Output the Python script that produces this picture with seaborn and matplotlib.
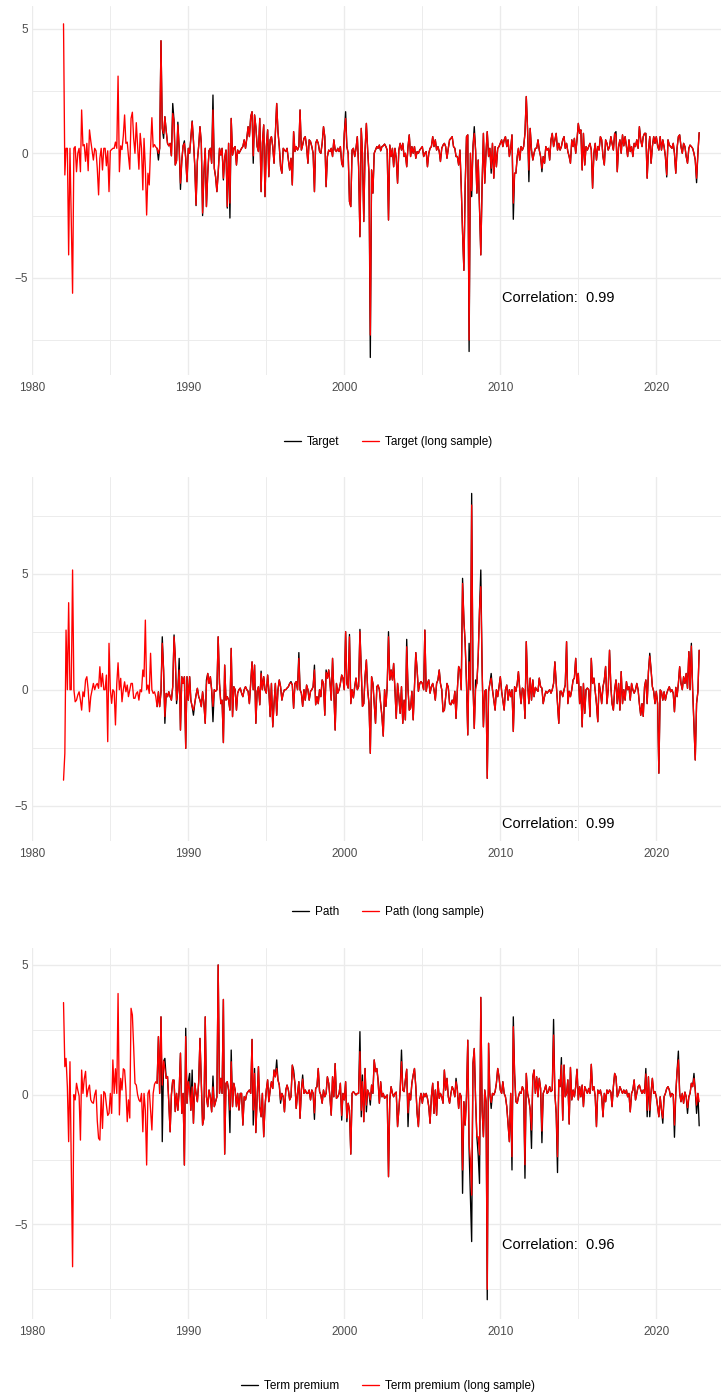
import numpy as np
import pandas as pd
import matplotlib
matplotlib.use("Agg")
import matplotlib.pyplot as plt
import matplotlib.dates as mdates
from matplotlib.lines import Line2D
from matplotlib.ticker import FixedLocator
import seaborn as sns

sns.set_theme(style="white")
plt.rcParams["font.family"] = ["Liberation Sans", "DejaVu Sans"]
plt.rcParams["axes.unicode_minus"] = True

# Monthly surprise factors, long sample starts Jan 1982, short sample Jan 1988
LONG_START = "1982-01-01"
SHORT_OFFSET = 72  # months between the two sample starts

target_long = [
    5.2, -0.87, 0.2, 0.2, -4.08, 0.2, -2.7, -5.62, 0.2, 0.27,
    -0.74, 0.0, 0.2, -0.74, 1.74, 0.3, 0.35, -0.32, 0.4, -0.7,
    0.94, 0.5, 0.1, -0.27, 0.2, 0.1, -0.6, -1.67, -0.2, 0.2,
    -0.67, 0.2, 0.2, -0.5, 0.1, -1.54, 0.1, 0.15, 0.2, 0.2,
    0.45, 0.2, 3.1, -0.74, 0.3, 0.15, 0.7, 1.54, 0.4, 0.45,
    -0.1, -0.64, 1.4, 1.65, 0.6, 0.0, 1.23, 0.3, -0.64, 0.8,
    0.2, -1.47, 0.6, -0.6, -2.48, -0.8, -1.27, 0.2, 1.43, 0.25,
    0.35, 0.25, 0.2, 0.0, 0.2, 4.52, 1.0, 0.8, 1.47, 0.9,
    0.4, 0.3, 0.4, -0.1, 1.6, 1.3, -0.47, -0.3, 1.14, 0.2,
    -1.2, -0.3, 0.3, 0.4, -0.2, -1.14, 0.2, 0.0, 0.6, 1.27,
    0.5, -0.5, -2.07, -0.3, 0.3, 1.07, 0.4, -2.4, -0.8, 0.2,
    -2.14, -0.8, 0.1, 0.2, -0.4, 1.74, -0.6, -0.94, -1.54, -0.8,
    0.2, -0.07, 0.2, -1.0, -0.2, 0.13, -2.14, 0.4, -2.0, 1.4,
    -0.07, 0.2, 0.27, -0.47, 0.13, 0.0, 0.1, 0.2, 0.27, 0.54,
    0.2, 0.6, 1.07, 0.67, 1.47, 1.67, -0.1, 1.54, 1.07, 0.27,
    0.07, 1.4, -1.54, 0.4, 1.14, -1.74, 0.27, 0.94, -0.94, 0.54,
    0.67, 0.27, -0.4, 0.8, 2.0, 0.87, 0.27, -0.54, -0.8, 0.2,
    0.13, 0.07, 0.2, -0.27, -0.67, -0.2, -1.27, 0.87, 0.07, 0.27,
    0.13, 0.27, 1.74, 0.13, 0.33, 0.6, 0.67, 0.27, -0.4, 0.54,
    0.47, 0.27, 0.0, -1.54, 0.4, 0.54, 0.4, 0.07, 0.0, 0.4,
    1.07, 0.67, -1.34, -0.13, 0.13, 0.07, 0.2, -0.13, 0.54, 0.13,
    0.07, 0.2, 0.07, 0.27, -0.4, -0.54, 0.8, 1.4, 0.27, 0.0,
    -1.94, -2.14, 0.13, 0.2, -0.13, 0.2, 0.67, -0.54, -3.35, 1.0,
    0.0, -2.74, 0.13, 1.2, 0.13, -0.8, -7.3, -0.67, -1.6, 0.0,
    0.13, 0.27, 0.2, 0.33, 0.1, 0.27, 0.3, 0.37, 0.27, 0.13,
    -2.68, 0.33, -0.13, 0.2, -0.54, 0.2, -0.2, -1.2, 0.13, 0.4,
    0.13, 0.4, -0.13, 0.0, -0.54, 0.27, 0.74, -0.13, 0.27, 0.0,
    0.27, -0.2, 0.07, 0.0, 0.13, 0.2, 0.27, -0.13, 0.0, 0.07,
    -0.54, 0.0, 0.2, 0.27, 0.67, 0.27, 0.54, 0.13, 0.27, 0.07,
    -0.33, 0.2, 0.33, 0.4, 0.27, -0.2, 0.2, 0.54, 0.6, 0.67,
    0.27, 0.2, -0.13, -0.13, -0.47, 0.13, -1.34, -3.2, -4.7, -1.34,
    0.67, 0.74, -7.5, 0.0, -1.5, 0.27, 0.8, 0.13, -1.6, -0.27,
    -2.14, -4.08, -1.2, 0.8, -1.2, 0.07, 0.87, -0.13, 0.2, -0.6,
    0.4, -1.0, 0.27, -0.54, 0.2, 0.27, 0.4, 0.54, 0.27, 0.54,
    0.67, 0.27, 0.54, -0.13, 0.2, 0.74, -2.0, -0.8, -0.8, -0.13,
    0.2, -0.27, 0.27, 0.13, 0.27, 0.8, 2.28, 0.94, -0.67, 1.0,
    0.13, -0.27, 0.0, 0.2, 0.2, 0.54, 0.13, -0.13, -0.6, -0.13,
    -0.4, 0.27, 0.13, 0.2, -0.27, 0.54, 0.8, 0.27, 0.54, 0.8,
    0.13, 0.4, 0.13, 0.27, 0.54, 0.67, 0.2, 0.4, 0.07, -0.13,
    -0.4, 0.54, 0.27, 0.6, 0.0, 0.54, 1.2, 0.8, 0.94, -0.67,
    0.8, -0.47, 0.27, 0.13, 0.27, 0.4, 0.13, -1.4, 0.0, 0.4,
    -0.27, 0.27, 0.13, 0.67, 0.54, -0.13, -0.47, 0.54, 0.4, 0.13,
    0.27, 0.67, 0.4, 0.13, 0.8, 0.7, -0.74, 0.27, 0.54, 0.0,
    0.74, 0.3, 0.67, 0.27, -0.13, 0.54, 0.07, 0.27, -0.13, 0.4,
    0.27, 0.54, 0.2, 1.07, 0.54, 0.27, 0.67, 0.8, 0.8, -1.0,
    0.13, 0.67, -0.4, 0.27, 0.67, 0.4, 0.67, 0.3, 0.13, 0.67,
    0.13, 0.54, 0.27, -0.13, -0.87, 0.54, 0.33, 0.27, 0.2, 0.4,
    0.0, -0.8, 0.2, 0.67, 0.74, 0.27, 0.0, 0.4, 0.27, -0.13,
    -0.4, 0.2, 0.33, 0.27, 0.2, 0.0, -0.27, -1.0, 0.0, 0.83,
]
# Short-sample months where the estimate departs from the long sample
target_short_diff = {
    73: -0.27, 77: 0.6, 84: 2.0, 88: 1.25, 90: -1.45, 93: 0.5, 99: 1.3,
    102: -2.1, 107: -2.5, 115: 2.34, 123: -1.07, 126: -2.2, 128: -2.6,
    146: -0.4, 217: 1.67, 236: -8.2, 312: -7.96, 314: -1.74, 316: 1.07,
    329: -0.8, 346: -2.65, 358: -1.14, 368: -0.74, 425: 0.87, 464: -0.95,
    487: -1.18,
}

path_long = [
    -3.9, -2.74, 2.57, 0.0, 3.75, 0.0, 0.0, 5.16, 0.0, -0.52,
    -0.45, -0.23, -0.09, -0.45, -0.88, -0.09, -0.3, 0.42, 0.56, 0.0,
    -0.95, -0.3, 0.0, 0.27, 0.0, 0.2, 0.27, 0.06, 0.99, 0.13,
    0.7, 0.0, 0.0, 0.63, -2.24, 2.0, 0.0, -0.59, 0.0, -0.09,
    -1.52, 0.27, 1.16, 0.0, 0.49, -0.52, 0.0, 0.34, -0.09, 0.2,
    -0.3, 0.0, 0.27, 0.27, -0.37, -0.37, -0.16, -0.09, -0.45, 0.0,
    -0.09, 0.85, 0.56, 3.0, 0.0, 0.2, -0.16, 1.57, 0.0, -0.16,
    -0.09, -0.3, -0.73, -0.09, -0.73, -0.09, 2.0, 0.85, -1.16, -0.16,
    -0.3, -0.09, -0.3, -0.45, 0.13, 2.28, 1.42, -0.45, 0.0, 0.85,
    -1.74, 0.56, 0.27, 0.56, -2.53, 0.56, -0.45, 0.56, -0.45, -0.73,
    -0.88, -0.59, -0.23, 0.06, -0.3, -0.45, -0.73, -0.09, -0.59, -1.45,
    0.2, 0.7, 0.27, 0.56, 0.0, -0.72, 0.0, -0.07, 0.0, 2.28,
    0.27, -0.6, -0.45, -2.28, 1.06, -0.45, -0.3, -0.45, -0.88, 1.78,
    -1.16, 0.13, 0.0, -0.88, -0.15, 0.0, 0.07, -0.15, -0.3, 0.0,
    0.13, 0.0, -0.07, -0.6, 0.27, 1.2, 0.0, 1.06, -1.45, -0.07,
    0.13, -0.65, 0.7, 0.0, 0.56, 0.0, -0.15, 0.63, 0.0, -1.16,
    0.27, -1.6, -0.6, 0.27, -1.1, 0.0, 0.42, 0.13, -0.45, -0.15,
    0.0, 0.0, 0.07, 0.13, 0.27, 0.3, 0.2, -0.8, 0.27, 0.35,
    0.0, 1.35, 0.0, -0.15, -0.72, 0.0, -0.45, 0.2, 0.0, -0.45,
    -0.07, 0.0, 0.13, 0.85, -0.65, -0.3, -0.6, 0.0, -0.3, 0.42,
    0.27, -1.1, 0.75, 0.5, 0.85, 0.27, -0.45, 1.35, -0.07, -1.74,
    0.27, -0.15, 0.0, 0.27, 0.63, 0.5, 0.0, 2.5, 0.27, 0.07,
    2.28, -0.6, 0.0, -0.35, 0.13, 0.5, 0.0, 0.13, 2.5, 0.85,
    -0.72, -0.6, 0.56, 1.28, 0.0, -0.6, -2.74, 0.56, 0.27, -0.6,
    -1.45, 0.13, 0.2, 0.0, -0.6, -1.16, -2.0, 0.0, -0.72, 0.13,
    2.28, 0.42, 0.85, 0.42, 1.13, 0.0, -1.24, 0.27, -0.3, -1.02,
    0.13, -1.45, -0.45, -1.3, 1.85, 0.0, -0.88, -0.8, -0.07, -1.3,
    0.13, 1.6, 0.85, -0.07, 0.27, 0.35, 0.27, 0.0, 2.57, -0.07,
    0.27, 0.42, -0.15, 0.13, 0.27, 0.0, -0.45, 0.27, 0.42, 0.85,
    0.27, 0.0, -0.95, -0.88, -0.3, 0.27, 0.1, -0.6, -0.65, -0.45,
    -0.6, -0.07, -1.24, 0.0, 1.0, 0.85, 0.0, 4.58, 3.0, 2.0,
    0.27, -1.95, 1.2, 0.0, 7.96, 0.27, -1.67, 0.0, 0.27, 1.42,
    3.45, 4.44, 0.85, -1.6, -0.07, 0.0, -3.82, -0.07, 0.27, 0.5,
    0.0, -0.45, -0.88, 0.0, -0.3, 0.13, 0.56, -0.07, -0.45, -0.88,
    0.0, 0.2, -0.45, 0.0, -0.3, 0.0, -1.8, 0.13, -0.07, 0.27,
    0.78, 0.0, -0.6, 0.07, 0.0, -1.24, 2.07, 0.27, -0.6, 0.5,
    -0.45, 0.42, -0.3, 0.1, 0.0, -0.07, 0.5, 0.13, 0.07, -0.6,
    -0.3, -0.07, -0.15, -0.07, 0.0, -0.15, 0.0, 0.27, 1.2, 0.27,
    -0.6, -1.45, -0.07, -0.07, -0.3, 0.0, 0.2, 2.07, -0.6, -0.07,
    -0.3, 0.0, 0.42, 0.5, 1.35, 0.27, 0.7, -0.6, 0.13, -1.6,
    0.27, -1.02, 0.0, 0.07, 0.0, -1.16, 1.35, 0.27, 0.5, -0.07,
    -0.6, -1.38, 0.27, -0.07, -0.6, 0.13, 0.42, 1.0, -0.6, 0.0,
    1.7, 0.13, -0.6, -0.88, 0.0, 0.42, -0.6, 0.27, -0.88, 0.78,
    -0.6, 0.0, -0.45, 0.35, 0.0, 0.13, -0.45, 0.27, 0.0, -0.15,
    0.0, 0.27, 0.0, -0.6, -1.1, -0.6, -1.15, 0.13, 0.42, -0.6,
    0.78, 1.45, 0.85, 0.13, -0.07, -0.6, -0.07, -0.6, -3.6, -0.01,
    -0.09, -0.45, -0.09, -0.45, -0.16, 0.0, 0.13, -0.09, 0.0, -0.16,
    -0.95, 0.1, -0.3, 0.27, 0.99, 0.27, 0.0, 0.56, 0.27, 0.7,
    0.06, 1.64, 0.0, 1.88, 0.0, -1.6, -3.03, -0.59, -0.09, 1.7,
]
path_short_diff = {
    76: 2.28, 78: -1.45, 85: 2.36, 87: -0.6, 89: 1.35, 100: -1.1, 110: 0.42,
    115: -1.38, 152: 0.8, 175: 0.35, 181: 1.6, 193: 1.06, 202: 0.85,
    220: 2.38, 228: 2.6, 250: 2.5, 264: 2.17, 307: 4.8, 312: 2.0, 314: 8.46,
    317: 0.42, 321: 5.16, 329: 0.7, 451: 1.57, 483: 2.0,
}

term_long = [
    3.55, 1.08, 1.4, 0.3, -1.81, 1.27, -2.5, -6.63, 0.0, -0.2,
    0.44, 0.18, -0.05, -1.75, 0.95, 0.05, 0.6, 0.9, -0.08, 0.2,
    0.37, -0.2, -0.3, -0.33, 0.0, 0.18, -1.0, -1.68, -1.75, 0.0,
    -1.3, 0.12, 0.05, -0.4, -0.8, -0.72, 0.05, -0.72, 1.34, 0.05,
    1.0, 0.05, 3.9, -0.78, 0.63, 0.18, 1.0, 0.95, 0.18, -1.04,
    -0.2, -0.9, 3.33, 3.07, 1.85, 0.44, 0.37, 0.0, -0.2, -0.27,
    0.05, -1.43, 0.05, -0.6, -2.71, 0.05, 0.18, -0.6, -1.36, 0.05,
    0.4, 0.5, 0.44, 2.24, 0.05, 3.0, 0.37, 1.3, 1.0, 0.63,
    0.7, -0.3, -1.43, 0.0, 0.56, 0.56, -0.65, 0.05, -0.6, 0.18,
    1.6, -0.72, 0.05, -2.71, 2.24, -0.33, 0.5, 0.2, -0.6, 0.3,
    -1.1, 0.44, 0.05, -0.27, 0.5, 2.17, 0.5, -1.17, -0.9, 3.0,
    -0.08, -0.46, 0.18, -0.08, -0.66, 0.3, -0.46, -0.27, -0.08, 5.0,
    0.05, 0.63, 0.05, 3.67, -2.29, 0.44, 0.5, 0.18, -0.59, 1.27,
    -0.46, 0.44, 0.18, -0.46, 0.05, -0.59, 0.05, 0.05, -1.17, -0.08,
    -0.2, 0.05, 0.12, 0.18, 0.05, 2.13, -0.59, 0.82, -1.46, -0.08,
    1.08, -0.46, -0.85, 0.05, -1.62, -0.46, 0.18, 0.57, -0.27, 0.18,
    0.5, 0.24, 0.95, 0.69, 1.01, 0.57, 0.37, -0.2, 0.05, -0.08,
    -0.66, 0.18, 0.37, 0.18, -0.2, -0.08, 1.14, 0.8, 0.44, -0.53,
    0.05, 0.5, -0.91, 0.18, 0.6, 0.05, 0.18, 0.05, 0.05, 0.18,
    -0.2, 0.18, 0.05, -0.7, 0.24, 0.31, 1.01, 0.12, -0.01, -0.33,
    0.18, -0.08, 0.05, 0.69, 0.44, -0.14, -0.79, 0.69, -0.08, 1.2,
    -0.14, -0.08, 0.05, 0.44, -0.8, 0.05, -0.2, 0.5, -0.9, -0.33,
    -0.59, -2.29, 0.05, 0.12, 0.05, -0.01, 0.05, 0.05, 1.66, -0.6,
    0.5, -1.04, 1.01, -0.4, 0.18, 0.05, -0.2, 0.37, 0.05, 1.34,
    0.89, 1.01, 0.57, -0.33, 0.5, -0.08, 0.05, -0.14, -0.08, -0.01,
    -3.16, -0.2, 0.31, 0.05, -0.08, 0.05, 0.1, -1.23, -0.59, 0.18,
    1.27, 0.18, 0.12, 0.57, 0.98, -0.7, 0.05, -0.2, 0.44, 0.76,
    1.01, 0.31, -0.72, -1.23, -0.2, 0.05, -0.33, 0.05, -0.08, 0.05,
    -0.14, -0.46, -1.1, -0.08, 0.44, -0.72, 0.18, -0.79, 0.5, -0.14,
    0.05, -0.08, -0.33, 0.95, 0.18, 0.63, -0.08, -0.33, 0.05, 0.31,
    0.18, -0.08, 0.5, 0.18, -0.53, 0.05, -0.08, -2.9, -0.27, -1.17,
    -0.08, 2.1, -1.88, -2.5, -3.87, 1.2, 1.78, -0.2, -1.62, -1.62,
    -2.32, 3.75, -0.59, -1.62, 0.18, -0.27, -7.5, 1.98, 0.05, -0.3,
    0.05, -0.01, 0.12, 0.44, 1.01, 0.69, 0.18, 0.05, 0.5, 0.05,
    -0.08, -0.46, -1.1, -1.81, 0.05, -2.39, 2.62, 0.82, -0.27, -0.33,
    -0.08, 0.1, 0.05, 0.31, 0.18, -2.7, 0.82, 0.05, -0.2, -0.59,
    -1.36, 0.69, 0.95, 0.05, 0.69, -0.08, 0.63, 0.24, -1.4, 0.05,
    0.18, 0.37, 0.05, 0.12, 0.31, 0.12, 0.18, 2.3, 0.05, -0.72,
    -2.39, 0.57, 0.31, 1.14, -0.98, 1.14, -0.08, 0.05, 0.57, -1.13,
    1.05, -0.2, 0.18, -0.08, 0.31, 0.98, -0.2, 0.31, -0.08, 0.37,
    -0.46, 0.31, 0.18, 0.05, 0.24, 0.05, 1.17, 0.18, 0.31, -0.08,
    -1.23, 0.18, 0.05, 0.18, -0.08, -0.85, 0.05, -0.27, 0.18, 0.05,
    0.18, 0.1, -0.46, 0.31, 0.82, 0.69, -0.08, 0.05, 0.31, 0.18,
    0.05, 0.18, 0.05, 0.18, -0.08, 0.05, -0.66, 0.05, 0.18, 0.57,
    -0.2, 0.05, 0.31, 0.37, 0.18, 0.05, 0.18, 0.05, 0.8, -0.6,
    0.69, -0.6, 0.1, 0.63, 0.05, 0.12, -0.08, -0.46, -0.85, -0.08,
    -0.59, -0.9, -0.08, 0.05, 0.24, 0.31, 0.18, -0.08, 0.05, -0.01,
    -1.17, 0.05, 0.89, 1.34, 0.05, -0.27, 0.05, -0.33, 0.1, -0.08,
    -0.5, -0.08, 0.05, 0.44, 0.31, 0.63, 0.18, -0.4, 0.05, -0.27,
]
term_short_diff = {
    76: -1.81, 78: 1.4, 94: 2.56, 97: 0.82, 99: 0.95, 115: 0.72, 128: -1.46,
    129: 1.72, 146: -1.17, 147: 1.01, 164: 1.34, 167: -0.33, 177: 0.95,
    184: 0.76, 193: -0.95, 214: -0.98, 218: -1.04, 228: 2.43, 229: -0.85,
    230: 0.76, 233: -0.66, 236: -0.4, 260: 1.72, 265: -1.23, 302: 0.63,
    307: -3.8, 312: -2.13, 313: -4.0, 314: -5.66, 319: -2.32, 320: -3.42,
    326: -7.9, 329: -0.53, 345: -2.9, 346: 3.0, 355: -3.22, 360: -2.07,
    368: -1.85, 377: 2.9, 380: -3.0, 383: 1.43, 448: 1.01, 449: -0.85,
    451: -0.85, 461: -1.1, 470: -1.64, 473: 1.68, 480: -0.72, 485: 0.82,
    487: -0.72, 489: -1.2,
}

series_names = ["Target", "Path", "Term premium"]
correlations = [0.99, 0.99, 0.96]
long_values = [target_long, path_long, term_long]
short_diffs = [target_short_diff, path_short_diff, term_short_diff]


def build_frame(values, diffs):
    dates = pd.date_range(LONG_START, periods=len(values), freq="MS")
    long_s = pd.Series(values, index=dates, dtype=float)
    short_s = long_s.iloc[SHORT_OFFSET:].copy()
    for idx, val in diffs.items():
        short_s.iloc[idx - SHORT_OFFSET] = val
    return long_s, short_s


# Layout in pixels
W, H, DPI = 721, 1393, 96
PANEL_LEFT = 31.7
PX_PER_YEAR = 15.6
X1980 = 32.3
layout = [
    # top, bottom, zero line, px per unit, legend centre
    dict(top=6, bottom=375, zero=153.3, ppu=24.9, legend=442),
    dict(top=477, bottom=841, zero=689.7, ppu=23.2, legend=912),
    dict(top=948, bottom=1319, zero=1094.7, ppu=25.95, legend=1386),
]

fig = plt.figure(figsize=(W / DPI, H / DPI), dpi=DPI)

base = mdates.date2num(pd.Timestamp("1980-01-01"))


def year_num(y):
    return base + (y - 1980) * 365.25


xlim = (year_num(1980 - (X1980 - PANEL_LEFT) / PX_PER_YEAR),
        year_num(1980 + (W - X1980) / PX_PER_YEAR))

GRID = "#EBEBEB"
TXT = "#4D4D4D"
LW = 1.0

for name, corr, vals, diffs, lay in zip(series_names, correlations, long_values,
                                        short_diffs, layout):
    long_s, short_s = build_frame(vals, diffs)
    ax = fig.add_axes([PANEL_LEFT / W, 1 - lay["bottom"] / H,
                       (W - PANEL_LEFT) / W, (lay["bottom"] - lay["top"]) / H])

    ax.set_axisbelow(True)
    sns.lineplot(x=short_s.index, y=short_s.values, ax=ax, color="black",
                 lw=LW, legend=False)
    sns.lineplot(x=long_s.index, y=long_s.values, ax=ax, color="#FF0000",
                 lw=LW, legend=False)

    ax.set_xlim(*xlim)
    ax.set_ylim((lay["zero"] - lay["bottom"]) / lay["ppu"],
                (lay["zero"] - lay["top"]) / lay["ppu"])

    ax.xaxis.set_major_locator(mdates.YearLocator(10))
    ax.xaxis.set_minor_locator(mdates.YearLocator(5))
    ax.xaxis.set_major_formatter(mdates.DateFormatter("%Y"))
    ax.yaxis.set_major_locator(FixedLocator([-5, 0, 5]))
    ax.yaxis.set_minor_locator(FixedLocator([-7.5, -2.5, 2.5, 7.5]))

    ax.grid(which="major", color=GRID, lw=1.0)
    ax.grid(which="minor", color=GRID, lw=0.7)
    for sp in ax.spines.values():
        sp.set_visible(False)
    ax.tick_params(which="both", length=0, labelcolor=TXT, labelsize=8.8)
    ax.tick_params(axis="x", pad=5.3)
    ax.tick_params(axis="y", pad=3)
    ax.set_xlabel("")
    ax.set_ylabel("")

    ax.text(mdates.date2num(pd.Timestamp("2010-02-01")), -5.8,
            f"Correlation:  {corr:.2f}", fontsize=11, ha="left", va="center",
            color="black")

    handles = [Line2D([], [], color="black", lw=LW),
               Line2D([], [], color="#FF0000", lw=LW)]
    fig.legend(handles, [name, f"{name} (long sample)"], loc="center",
               bbox_to_anchor=(388 / W, 1 - lay["legend"] / H), ncol=2,
               frameon=False, fontsize=8.8, handlelength=1.45,
               handletextpad=0.45, columnspacing=2.0, labelcolor="black")

fig.savefig("out.png", dpi=DPI)
